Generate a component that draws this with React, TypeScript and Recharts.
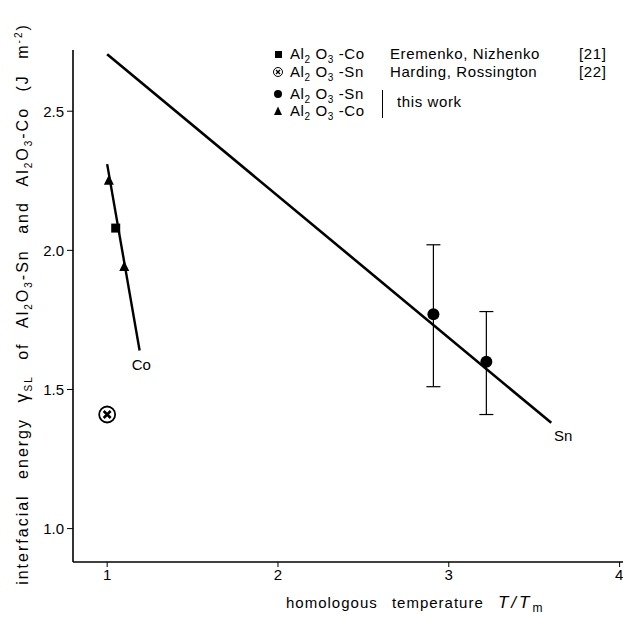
import { ComposedChart, Scatter, XAxis, YAxis, ErrorBar, Label } from 'recharts';

// fitted lines (end points)
const snLine = [{ t: 1.0, e: 2.705 }, { t: 3.6, e: 1.38 }];
const coLine = [{ t: 1.0, e: 2.31 }, { t: 1.19, e: 1.64 }];

// measured points
const snThisWork = [
  { t: 2.91, e: 1.77, err: [0.26, 0.25] },
  { t: 3.22, e: 1.6, err: [0.19, 0.18] },
];
const coThisWork = [{ t: 1.01, e: 2.25 }, { t: 1.1, e: 1.94 }];
const coEremenko = [{ t: 1.05, e: 2.08 }];
const snHarding = [{ t: 1.0, e: 1.41 }];

const lineNames = [{ t: 1.2, e: 1.585, name: 'Co' }, { t: 3.67, e: 1.33, name: 'Sn' }];

const xTicks = [1, 2, 3, 4];
const yTicks = [1.0, 1.5, 2.0, 2.5];

const FONT = '"Liberation Sans", Arial, sans-serif';

const none = () => <g />;

const dot = (p: any) => <circle cx={p.cx} cy={p.cy} r={6} fill="#000" />;
const tri = (p: any) => (
  <polygon points={`${p.cx},${p.cy - 6} ${p.cx - 5},${p.cy + 4} ${p.cx + 5},${p.cy + 4}`} fill="#000" />
);
const square = (p: any) => <rect x={p.cx - 4.5} y={p.cy - 4.5} width={9} height={9} fill="#000" />;
const crossCircle = (p: any) => (
  <g stroke="#000" fill="none">
    <circle cx={p.cx} cy={p.cy} r={8} strokeWidth={1.8} />
    <path d={`M${p.cx - 3.5},${p.cy - 3.5}L${p.cx + 3.5},${p.cy + 3.5}M${p.cx + 3.5},${p.cy - 3.5}L${p.cx - 3.5},${p.cy + 3.5}`} strokeWidth={2.6} />
  </g>
);
const nameText = (p: any) => (
  <text x={p.cx} y={p.cy} textAnchor="middle" dominantBaseline="middle" fontFamily={FONT} fontSize={15} fill="#000">
    {p.payload.name}
  </text>
);

function YLabel(props: any) {
  const x = 28;
  const y = 304;
  return (
    <text
      transform={`rotate(-90, ${x}, ${y})`}
      x={x}
      y={y}
      textAnchor="middle"
      fontFamily={FONT}
      fontSize={16}
      fill="#000"
      style={{ letterSpacing: 2.0, wordSpacing: 9 }}
    >
      interfacial energy <tspan fontSize={18}>γ</tspan>
      <tspan fontSize={10} dy={4}>SL</tspan>
      <tspan dy={-4}> of Al</tspan>
      <tspan fontSize={10} dy={4}>2</tspan>
      <tspan dy={-4}>O</tspan>
      <tspan fontSize={10} dy={4}>3</tspan>
      <tspan dy={-4}>-Sn and Al</tspan>
      <tspan fontSize={10} dy={4}>2</tspan>
      <tspan dy={-4}>O</tspan>
      <tspan fontSize={10} dy={4}>3</tspan>
      <tspan dy={-4}>-Co (J m</tspan>
      <tspan fontSize={10} dy={-6}>-2</tspan>
      <tspan dy={6}>)</tspan>
    </text>
  );
}

function XLabel() {
  return (
    <text x={286} y={608} fontFamily={FONT} fontSize={15} fill="#000" style={{ letterSpacing: 1.0, wordSpacing: 9 }}>
      homologous temperature{' '}
      <tspan fontStyle="italic" fontSize={17} style={{ letterSpacing: 3 }}>T/T</tspan>
      <tspan fontSize={12} dy={4}>m</tspan>
    </text>
  );
}

const Formula = ({ tail }: { tail: string }) => (
  <span>
    Al<sub style={{ fontSize: 10, verticalAlign: -4 }}>2</sub> O<sub style={{ fontSize: 10, verticalAlign: -4 }}>3</sub> {tail}
  </span>
);

const rowStyle = (top: number): any => ({
  position: 'absolute',
  top: top - 9,
  left: 272,
  fontFamily: FONT,
  fontSize: 15,
  lineHeight: '18px',
  letterSpacing: 0.6,
  whiteSpace: 'nowrap',
  color: '#000',
});

const mark = { verticalAlign: -1, marginRight: 4 };

function Legend() {
  return (
    <>
      <div style={rowStyle(54)}>
        <svg width={14} height={12} style={mark}><rect x={3} y={3} width={7} height={7} fill="#000" /></svg>
        <Formula tail="-Co" />
        <span style={{ position: 'absolute', left: 118 }}>Eremenko, Nizhenko</span>
        <span style={{ position: 'absolute', left: 307 }}>[21]</span>
      </div>
      <div style={rowStyle(72)}>
        <svg width={14} height={12} style={mark}>
          <circle cx={6} cy={6} r={4.5} stroke="#000" fill="none" strokeWidth={1} />
          <path d="M4,4L8,8M8,4L4,8" stroke="#000" strokeWidth={1.4} />
        </svg>
        <Formula tail="-Sn" />
        <span style={{ position: 'absolute', left: 118 }}>Harding, Rossington</span>
        <span style={{ position: 'absolute', left: 307 }}>[22]</span>
      </div>
      <div style={rowStyle(94)}>
        <svg width={14} height={12} style={mark}><circle cx={6} cy={6} r={4} fill="#000" /></svg>
        <Formula tail="-Sn" />
      </div>
      <div style={rowStyle(111)}>
        <svg width={14} height={12} style={mark}><polygon points="6,1.5 2,10 10,10" fill="#000" /></svg>
        <Formula tail="-Co" />
      </div>
      <div style={{ position: 'absolute', left: 382, top: 90, width: 1, height: 28, background: '#000' }} />
      <div style={{ ...rowStyle(102), left: 397 }}>this work</div>
    </>
  );
}

export default function App() {
  return (
    <div style={{ position: 'absolute', left: 0, top: 0, width: 623, height: 617, background: '#fff' }}>
      <ComposedChart width={623} height={617} margin={{ top: 50, right: 0, bottom: 25, left: 13 }}>
        <XAxis
          type="number"
          dataKey="t"
          domain={[0.8, 4.02]}
          ticks={xTicks}
          allowDataOverflow
          height={30}
          axisLine={{ stroke: '#000', strokeWidth: 1.6 }}
          tickLine={{ stroke: '#000' }}
          tickSize={5}
          tick={{ fill: '#000', fontSize: 15, fontFamily: FONT }}
        />
        <YAxis
          type="number"
          dataKey="e"
          domain={[0.88, 2.72]}
          ticks={yTicks}
          allowDataOverflow
          width={60}
          axisLine={{ stroke: '#000', strokeWidth: 1.6 }}
          tickLine={{ stroke: '#000' }}
          tickSize={6}
          tickFormatter={(v: number) => v.toFixed(1)}
          tick={{ fill: '#000', fontSize: 15, fontFamily: FONT, dx: -1 }}
        >
          <Label content={<YLabel />} />
        </YAxis>
        <Scatter data={snLine} line={{ stroke: '#000', strokeWidth: 2.6 }} shape={none} isAnimationActive={false} />
        <Scatter data={coLine} line={{ stroke: '#000', strokeWidth: 2.4 }} shape={none} isAnimationActive={false} />
        <Scatter data={snThisWork} shape={dot} isAnimationActive={false}>
          <ErrorBar dataKey="err" direction="y" width={7} stroke="#000" strokeWidth={1.2} isAnimationActive={false} />
        </Scatter>
        <Scatter data={coThisWork} shape={tri} isAnimationActive={false} />
        <Scatter data={coEremenko} shape={square} isAnimationActive={false} />
        <Scatter data={snHarding} shape={crossCircle} isAnimationActive={false} />
        <Scatter data={lineNames} shape={nameText} isAnimationActive={false} />
      </ComposedChart>
      <svg width={623} height={617} style={{ position: 'absolute', left: 0, top: 0, pointerEvents: 'none' }}>
        <XLabel />
      </svg>
      <Legend />
    </div>
  );
}
